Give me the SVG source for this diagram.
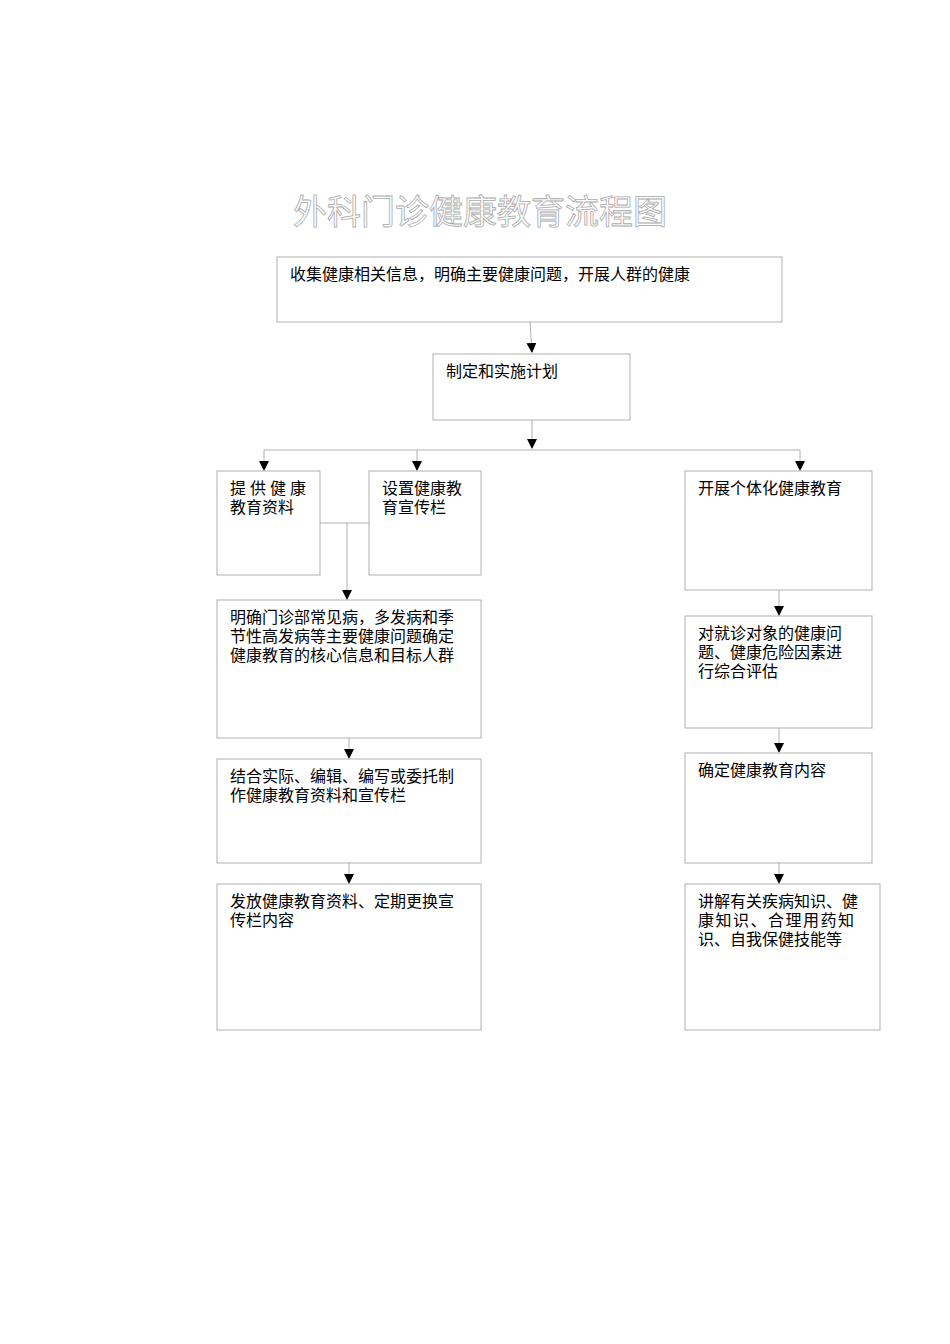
<svg xmlns="http://www.w3.org/2000/svg" width="950" height="1344" viewBox="0 0 950 1344">
<style>
.b{fill:#fff;stroke:#b0b0b0;stroke-width:1}
.t{font-family:"Liberation Serif","Noto Sans CJK SC",serif;font-size:16px;fill:#000}
.c{stroke:#b0b0b0;stroke-width:1;fill:none}
</style>
<defs><marker id="a" markerWidth="10" markerHeight="10" refX="5" refY="9" orient="auto" markerUnits="userSpaceOnUse" viewBox="0 0 10 10"><path d="M0,0L10,0L5,10Z" fill="#000" transform="rotate(-90 5 5)"/></marker>
<marker id="d" markerWidth="10" markerHeight="10" refX="9" refY="5" orient="auto" markerUnits="userSpaceOnUse" viewBox="0 0 10 10"><path d="M0,0L10,5L0,10Z" fill="#000"/></marker></defs>
<rect width="950" height="1344" fill="#fff"/>
<text x="480" y="224" text-anchor="middle" font-family="Noto Sans CJK SC,sans-serif" font-size="34" fill="#fff" stroke="#aaa" stroke-width="0.8">外科门诊健康教育流程图</text>
<g id="connectors">
<path class="c" d="M530,322L532,352" marker-end="url(#d)"/>
<path class="c" d="M532,420V448" marker-end="url(#d)"/>
<path class="c" d="M264,450H800"/>
<path class="c" d="M264,450V470" marker-end="url(#d)"/>
<path class="c" d="M417,450V470" marker-end="url(#d)"/>
<path class="c" d="M800,450V470" marker-end="url(#d)"/>
<path class="c" d="M320,523H369M347,523V599" marker-end="url(#d)"/>
<path class="c" d="M349,738V758" marker-end="url(#d)"/>
<path class="c" d="M349,863V883" marker-end="url(#d)"/>
<path class="c" d="M779,590V615" marker-end="url(#d)"/>
<path class="c" d="M779,728V752" marker-end="url(#d)"/>
<path class="c" d="M779,863V883" marker-end="url(#d)"/>
</g>
<g id="n1"><rect class="b" x="277" y="257" width="505" height="65"/><text class="t" x="290" y="280">收集健康相关信息，明确主要健康问题，开展人群的健康</text></g>
<g id="n2"><rect class="b" x="433" y="354" width="197" height="66"/><text class="t" x="446" y="377">制定和实施计划</text></g>
<g id="n3"><rect class="b" x="217" y="471" width="103" height="104"/><text class="t" x="230" y="494" letter-spacing="4">提供健康</text><text class="t" x="230" y="513">教育资料</text></g>
<g id="n4"><rect class="b" x="369" y="471" width="112" height="104"/><text class="t" x="382" y="494">设置健康教</text><text class="t" x="382" y="513">育宣传栏</text></g>
<g id="n5"><rect class="b" x="685" y="471" width="187" height="119"/><text class="t" x="698" y="494">开展个体化健康教育</text></g>
<g id="n6"><rect class="b" x="217" y="600" width="264" height="138"/><text class="t" x="230" y="623">明确门诊部常见病，多发病和季</text><text class="t" x="230" y="642">节性高发病等主要健康问题确定</text><text class="t" x="230" y="661">健康教育的核心信息和目标人群</text></g>
<g id="n7"><rect class="b" x="217" y="759" width="264" height="104"/><text class="t" x="230" y="782">结合实际、编辑、编写或委托制</text><text class="t" x="230" y="801">作健康教育资料和宣传栏</text></g>
<g id="n8"><rect class="b" x="217" y="884" width="264" height="146"/><text class="t" x="230" y="907">发放健康教育资料、定期更换宣</text><text class="t" x="230" y="926">传栏内容</text></g>
<g id="n9"><rect class="b" x="685" y="616" width="187" height="112"/><text class="t" x="698" y="639">对就诊对象的健康问</text><text class="t" x="698" y="658">题、健康危险因素进</text><text class="t" x="698" y="677">行综合评估</text></g>
<g id="n10"><rect class="b" x="685" y="753" width="187" height="110"/><text class="t" x="698" y="776">确定健康教育内容</text></g>
<g id="n11"><rect class="b" x="685" y="884" width="195" height="146"/><text class="t" x="698" y="907">讲解有关疾病知识、健</text><text class="t" x="698" y="926" letter-spacing="1.5">康知识、合理用药知</text><text class="t" x="698" y="945">识、自我保健技能等</text></g>
</svg>
